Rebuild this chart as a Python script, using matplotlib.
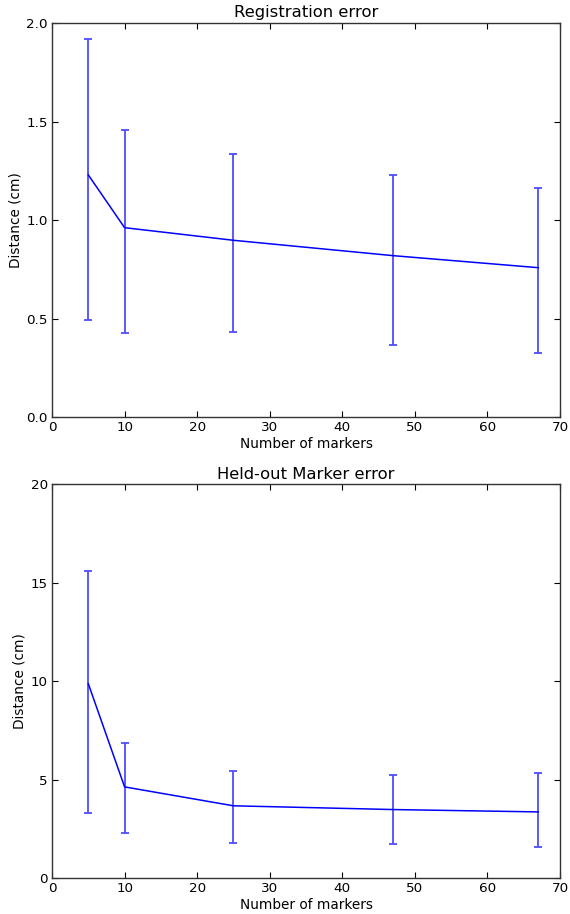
import matplotlib
matplotlib.use("Agg")
import matplotlib.pyplot as plt
import numpy as np

markers = [5, 10, 25, 47, 67]

reg_mean = [1.229, 0.961, 0.897, 0.819, 0.758]
reg_low = [0.492, 0.424, 0.432, 0.368, 0.327]
reg_high = [1.917, 1.459, 1.336, 1.230, 1.161]

held_mean = [9.88, 4.64, 3.68, 3.49, 3.37]
held_low = [3.30, 2.32, 1.81, 1.73, 1.58]
held_high = [15.61, 6.89, 5.47, 5.22, 5.34]

titles = ["Registration error", "Held-out Marker error"]
xlabel = "Number of markers"
ylabel = "Distance (cm)"

fig = plt.figure(figsize=(5.7, 9.14), dpi=100)
fig.patch.set_facecolor("white")

ax1 = fig.add_axes([52/570, 1-417/914, 508/570, 394/914])
ax2 = fig.add_axes([52/570, 1-878.3/914, 508/570, 394/914])

def draw(ax, mean, low, high, title, ylim, yticks, fmt):
    mean = np.array(mean); low = np.array(low); high = np.array(high)
    yerr = np.vstack([mean - low, high - mean])
    ax.errorbar(markers, mean, yerr=yerr, color="blue", ecolor="#4d4dff",
                elinewidth=1.3, capsize=3, capthick=1.3, linewidth=1.1)
    ax.set_xlim(0, 70)
    ax.set_ylim(*ylim)
    ax.set_xticks(range(0, 71, 10))
    ax.set_yticks(yticks)
    ax.set_yticklabels([fmt.format(v) for v in yticks])
    ax.tick_params(direction="in", top=True, right=True, length=4, width=0.8,
                   labelsize=9.7, pad=3)
    for s in ax.spines.values():
        s.set_linewidth(1.0)
        s.set_color("#333333")
    ax.set_title(title, fontsize=11.8, pad=4)
    ax.set_xlabel(xlabel, fontsize=9.8, labelpad=2)
    ax.set_ylabel(ylabel, fontsize=9.8, labelpad=3)

draw(ax1, reg_mean, reg_low, reg_high, titles[0], (0, 2.0),
     [0.0, 0.5, 1.0, 1.5, 2.0], "{:.1f}")
draw(ax2, held_mean, held_low, held_high, titles[1], (0, 20),
     [0, 5, 10, 15, 20], "{:d}")

fig.savefig("out.png", dpi=100, facecolor="white")
